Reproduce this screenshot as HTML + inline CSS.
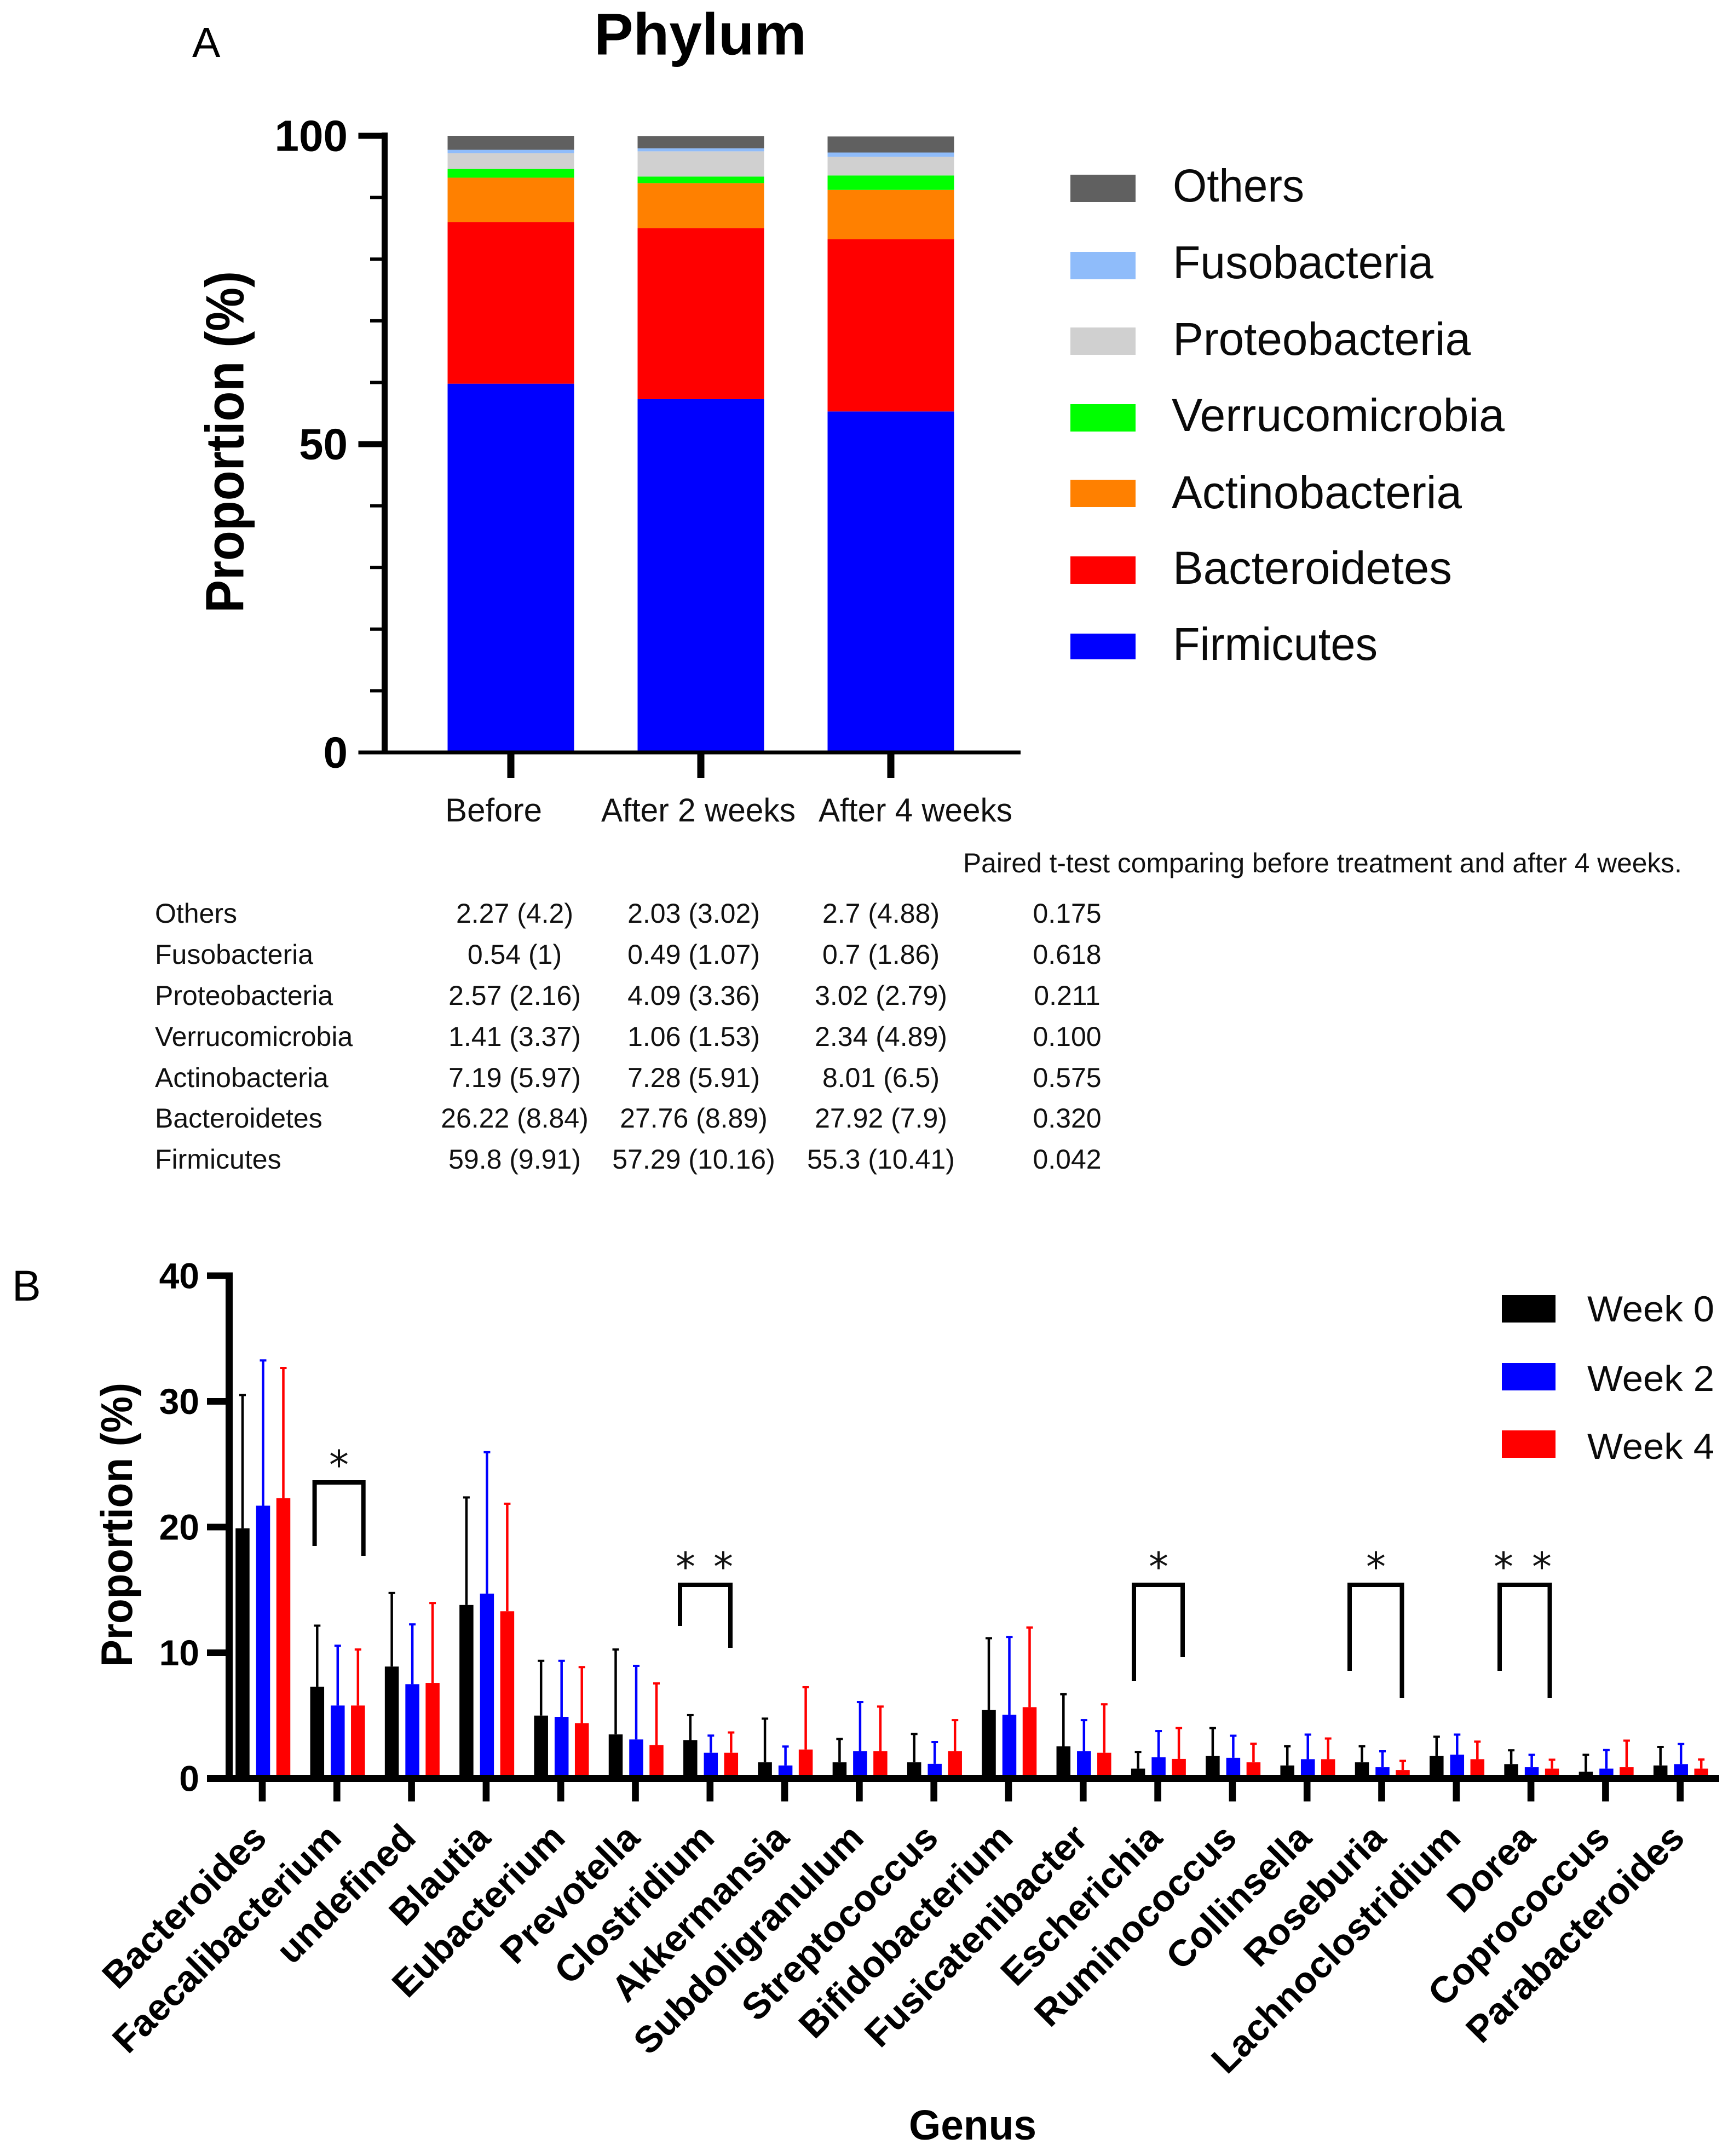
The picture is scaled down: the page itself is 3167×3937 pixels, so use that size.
<!DOCTYPE html>
<html lang="en">
<head>
<meta charset="utf-8">
<title>Phylum and Genus proportions</title>
<style>
html,body{margin:0;padding:0;background:#fff;}
svg{display:block;}
text{font-family:"Liberation Sans",Arial,sans-serif;fill:#000;}
.tbl{font-size:50px;fill:#111;}
.mid{text-anchor:middle;}
.leg{font-size:84px;fill:#0a0a0a;}
.legb{font-size:66px;fill:#0a0a0a;}
.xa{font-size:60px;fill:#111;}
.ast{font-family:"DejaVu Sans",sans-serif;font-size:72px;text-anchor:middle;fill:#111;}
.brk{fill:none;stroke:#000;stroke-width:8;}
</style>
</head>
<body>
<svg id="fig" xmlns="http://www.w3.org/2000/svg" width="3167" height="3937" viewBox="0 0 3167 3937">
  <rect x="0" y="0" width="3167" height="3937" fill="#fff"/>

  <text x="351" y="104" font-size="77">A</text>
  <text x="1085" y="99.5" font-size="108" font-weight="bold" textLength="388" lengthAdjust="spacingAndGlyphs">Phylum</text>
  <text transform="translate(444.5,1119) rotate(-90)" font-size="98" font-weight="bold" textLength="624" lengthAdjust="spacingAndGlyphs">Proportion (%)</text>

  <g id="chartA"></g>

  <text class="xa" x="813" y="1500" textLength="177" lengthAdjust="spacingAndGlyphs">Before</text>
  <text class="xa" x="1098" y="1500" textLength="355" lengthAdjust="spacingAndGlyphs">After 2 weeks</text>
  <text class="xa" x="1495" y="1500" textLength="354" lengthAdjust="spacingAndGlyphs">After 4 weeks</text>

  <g>
    <rect x="1955" y="319" width="119" height="50" fill="#606060"/>
    <text class="leg" x="2142" y="368" textLength="240" lengthAdjust="spacingAndGlyphs">Others</text>
    <rect x="1955" y="460" width="119" height="50" fill="#8fbcfa"/>
    <text class="leg" x="2142" y="508" textLength="476" lengthAdjust="spacingAndGlyphs">Fusobacteria</text>
    <rect x="1955" y="598" width="119" height="50" fill="#d0d0d0"/>
    <text class="leg" x="2142" y="648" textLength="544" lengthAdjust="spacingAndGlyphs">Proteobacteria</text>
    <rect x="1955" y="738" width="119" height="50" fill="#00ff00"/>
    <text class="leg" x="2140" y="787" textLength="608" lengthAdjust="spacingAndGlyphs">Verrucomicrobia</text>
    <rect x="1955" y="876" width="119" height="50" fill="#ff8000"/>
    <text class="leg" x="2140" y="928" textLength="530" lengthAdjust="spacingAndGlyphs">Actinobacteria</text>
    <rect x="1955" y="1016" width="119" height="50" fill="#ff0000"/>
    <text class="leg" x="2142" y="1066" textLength="510" lengthAdjust="spacingAndGlyphs">Bacteroidetes</text>
    <rect x="1955" y="1157" width="119" height="47" fill="#0000ff"/>
    <text class="leg" x="2142" y="1205" textLength="374" lengthAdjust="spacingAndGlyphs">Firmicutes</text>
  </g>

  <g>
    <text class="tbl" x="1759" y="1593" textLength="1313" lengthAdjust="spacingAndGlyphs">Paired t-test  comparing before treatment  and after  4 weeks.</text>

    <text class="tbl" x="283" y="1685">Others</text>
    <text class="tbl mid" x="940" y="1685">2.27 (4.2)</text>
    <text class="tbl mid" x="1267" y="1685">2.03 (3.02)</text>
    <text class="tbl mid" x="1609" y="1685">2.7 (4.88)</text>
    <text class="tbl mid" x="1949" y="1685">0.175</text>

    <text class="tbl" x="283" y="1760">Fusobacteria</text>
    <text class="tbl mid" x="940" y="1760">0.54 (1)</text>
    <text class="tbl mid" x="1267" y="1760">0.49 (1.07)</text>
    <text class="tbl mid" x="1609" y="1760">0.7 (1.86)</text>
    <text class="tbl mid" x="1949" y="1760">0.618</text>

    <text class="tbl" x="283" y="1835">Proteobacteria</text>
    <text class="tbl mid" x="940" y="1835">2.57 (2.16)</text>
    <text class="tbl mid" x="1267" y="1835">4.09 (3.36)</text>
    <text class="tbl mid" x="1609" y="1835">3.02 (2.79)</text>
    <text class="tbl mid" x="1949" y="1835">0.211</text>

    <text class="tbl" x="283" y="1910">Verrucomicrobia</text>
    <text class="tbl mid" x="940" y="1910">1.41 (3.37)</text>
    <text class="tbl mid" x="1267" y="1910">1.06 (1.53)</text>
    <text class="tbl mid" x="1609" y="1910">2.34 (4.89)</text>
    <text class="tbl mid" x="1949" y="1910">0.100</text>

    <text class="tbl" x="283" y="1985">Actinobacteria</text>
    <text class="tbl mid" x="940" y="1985">7.19 (5.97)</text>
    <text class="tbl mid" x="1267" y="1985">7.28 (5.91)</text>
    <text class="tbl mid" x="1609" y="1985">8.01 (6.5)</text>
    <text class="tbl mid" x="1949" y="1985">0.575</text>

    <text class="tbl" x="283" y="2059">Bacteroidetes</text>
    <text class="tbl mid" x="940" y="2059">26.22 (8.84)</text>
    <text class="tbl mid" x="1267" y="2059">27.76 (8.89)</text>
    <text class="tbl mid" x="1609" y="2059">27.92 (7.9)</text>
    <text class="tbl mid" x="1949" y="2059">0.320</text>

    <text class="tbl" x="283" y="2134">Firmicutes</text>
    <text class="tbl mid" x="940" y="2134">59.8 (9.91)</text>
    <text class="tbl mid" x="1267" y="2134">57.29 (10.16)</text>
    <text class="tbl mid" x="1609" y="2134">55.3 (10.41)</text>
    <text class="tbl mid" x="1949" y="2134">0.042</text>
  </g>

  <text x="22" y="2375" font-size="79">B</text>
  <text transform="translate(241,3044) rotate(-90)" font-size="81" font-weight="bold" textLength="519" lengthAdjust="spacingAndGlyphs">Proportion (%)</text>

  <g id="chartB"></g>

  <g>
    <polyline class="brk" points="574.6,2823 574.6,2707 663.7,2707 663.7,2841"/>
    <text class="ast" x="619" y="2700">*</text>
    <polyline class="brk" points="1242,2969 1242,2894 1334,2894 1334,3009"/>
    <text class="ast" x="1252" y="2886">*</text>
    <text class="ast" x="1321" y="2886">*</text>
    <polyline class="brk" points="2071,3070 2071,2894 2160,2894 2160,3026"/>
    <text class="ast" x="2116" y="2886">*</text>
    <polyline class="brk" points="2465,3051 2465,2894 2560.5,2894 2560.5,3101"/>
    <text class="ast" x="2513" y="2886">*</text>
    <polyline class="brk" points="2739,3051 2739,2894 2830.5,2894 2830.5,3101"/>
    <text class="ast" x="2746" y="2886">*</text>
    <text class="ast" x="2816" y="2886">*</text>
  </g>

  <text x="1660" y="3907" font-size="77" font-weight="bold" textLength="233" lengthAdjust="spacingAndGlyphs">Genus</text>

  <g>
    <rect x="2743" y="2365" width="98" height="50" fill="#000000"/>
    <text class="legb" x="2899" y="2413" textLength="232" lengthAdjust="spacingAndGlyphs">Week 0</text>
    <rect x="2743" y="2489" width="98" height="50" fill="#0000ff"/>
    <text class="legb" x="2899" y="2540" textLength="232" lengthAdjust="spacingAndGlyphs">Week 2</text>
    <rect x="2743" y="2612" width="98" height="50" fill="#ff0000"/>
    <text class="legb" x="2899" y="2664" textLength="232" lengthAdjust="spacingAndGlyphs">Week 4</text>
  </g>
</svg>

<script>
// ---- Panel A data ----
const phylumCategories = ['Before', 'After 2 weeks', 'After 4 weeks'];
const firmicutes = [59.8, 57.29, 55.3];
const bacteroidetes = [26.22, 27.76, 27.92];
const actinobacteria = [7.19, 7.28, 8.01];
const verrucomicrobia = [1.41, 1.06, 2.34];
const proteobacteria = [2.57, 4.09, 3.02];
const fusobacteria = [0.54, 0.49, 0.7];
const others = [2.27, 2.0, 2.6];
const phylumMajorTicks = [0, 50, 100];
const phylumMinorTicks = [10, 20, 30, 40, 60, 70, 80, 90];

// ---- Panel B data ----
const genera = ['Bacteroides', 'Faecalibacterium', 'undefined', 'Blautia', 'Eubacterium', 'Prevotella', 'Clostridium', 'Akkermansia', 'Subdoligranulum', 'Streptococcus', 'Bifidobacterium', 'Fusicatenibacter', 'Escherichia', 'Ruminococcus', 'Collinsella', 'Roseburia', 'Lachnoclostridium', 'Dorea', 'Coprococcus', 'Parabacteroides'];
const week0Mean = [19.9, 7.3, 8.9, 13.8, 5.0, 3.5, 3.05, 1.28, 1.28, 1.28, 5.44, 2.55, 0.78, 1.78, 1.03, 1.28, 1.78, 1.14, 0.53, 1.03];
const week2Mean = [21.7, 5.8, 7.5, 14.7, 4.9, 3.1, 2.04, 1.03, 2.17, 1.16, 5.06, 2.17, 1.68, 1.64, 1.53, 0.89, 1.89, 0.89, 0.78, 1.14];
const week4Mean = [22.3, 5.8, 7.6, 13.3, 4.4, 2.65, 2.04, 2.3, 2.17, 2.17, 5.67, 2.04, 1.55, 1.28, 1.53, 0.67, 1.53, 0.78, 0.89, 0.78];
const week0Upper = [30.55, 12.2, 14.8, 22.4, 9.4, 10.3, 5.08, 4.8, 3.18, 3.58, 11.2, 6.74, 2.15, 4.05, 2.6, 2.6, 3.36, 2.28, 1.92, 2.55];
const week2Upper = [33.3, 10.6, 12.3, 26.0, 9.4, 9.0, 3.45, 2.58, 6.12, 2.94, 11.3, 4.68, 3.81, 3.44, 3.53, 2.2, 3.53, 1.92, 2.3, 2.78];
const week4Upper = [32.7, 10.3, 14.0, 21.9, 8.9, 7.6, 3.7, 7.3, 5.76, 4.68, 12.05, 5.94, 4.05, 2.8, 3.22, 1.44, 2.97, 1.53, 3.05, 1.55];
const genusTicks = [0, 10, 20, 30, 40];

// ---- helpers ----
const SVGNS = 'http://www.w3.org/2000/svg';
function mk(tag, parent, props) {
  const el = document.createElementNS(SVGNS, tag);
  for (const k in props) el.setAttribute(k, props[k]);
  parent.appendChild(el);
  return el;
}

// ---- Panel A axes ----
const yA = v => 1374 - 11.26 * v;
const xA = i => 933 + 347 * i;
const chartA = document.getElementById('chartA');
const stackSeries = [
  { name: 'firmicutes', values: firmicutes, color: '#0000ff' },
  { name: 'bacteroidetes', values: bacteroidetes, color: '#ff0000' },
  { name: 'actinobacteria', values: actinobacteria, color: '#ff8000' },
  { name: 'verrucomicrobia', values: verrucomicrobia, color: '#00ff00' },
  { name: 'proteobacteria', values: proteobacteria, color: '#d0d0d0' },
  { name: 'fusobacteria', values: fusobacteria, color: '#8fbcfa' },
  { name: 'others', values: others, color: '#606060' }
];
phylumCategories.forEach((cat, i) => {
  let base = 0;
  stackSeries.forEach(s => {
    const top = base + s.values[i];
    const seg = mk('rect', chartA, { x: xA(i) - 115.5, y: yA(top), width: 231, height: yA(base) - yA(top), fill: s.color });
    
    
    base = top;
  });
  const xt = mk('rect', chartA, { x: xA(i) - 6.5, y: yA(0), width: 13, height: 47, fill: '#000' });
  
  
});
const axisAy = mk('rect', chartA, { x: 697, y: yA(100) - 6, width: 11, height: yA(0) - yA(100) + 9, fill: '#000' });


const axisAx = mk('rect', chartA, { x: 654.5, y: yA(0) - 3.5, width: 1209.5, height: 7, fill: '#000' });


phylumMinorTicks.forEach(v => {
  const t = mk('rect', chartA, { x: 676, y: yA(v) - 3, width: 22, height: 6, fill: '#000' });
  
  
});
phylumMajorTicks.forEach(v => {
  const h = v === 0 ? 7 : 11;
  const t = mk('rect', chartA, { x: 654.5, y: yA(v) - h / 2, width: 43, height: h, fill: '#000' });
  
  
  const l = mk('text', chartA, { x: 635, y: yA(v) + 27.5, 'font-size': 80, 'font-weight': 'bold', 'text-anchor': 'end' });
  l.textContent = String(v);
  
  
});

// ---- Panel B axes ----
const yB = v => 3247.5 - 22.95 * v;
const xB = i => 479 + 136.3 * i;
const chartB = document.getElementById('chartB');
const groupSeries = [
  { name: 'week-0', means: week0Mean, uppers: week0Upper, color: '#000000', offset: -36 },
  { name: 'week-2', means: week2Mean, uppers: week2Upper, color: '#0000ff', offset: 1.5 },
  { name: 'week-4', means: week4Mean, uppers: week4Upper, color: '#ff0000', offset: 38.5 }
];
genera.forEach((g, i) => {
  const slug = g.toLowerCase();
  groupSeries.forEach(s => {
    const cx = xB(i) + s.offset;
    const stem = mk('rect', chartB, { x: cx - 2.25, y: yB(s.uppers[i]), width: 4.5, height: yB(s.means[i]) - yB(s.uppers[i]), fill: s.color });
    
    
    const cap = mk('rect', chartB, { x: cx - 6, y: yB(s.uppers[i]) - 1, width: 12, height: 4, fill: s.color });
    
    
    const bar = mk('rect', chartB, { x: cx - 12.75, y: yB(s.means[i]), width: 25.5, height: yB(0) - yB(s.means[i]), fill: s.color });
    
    
  });
  const xt = mk('rect', chartB, { x: xB(i) - 6.3, y: yB(0), width: 12.6, height: 42, fill: '#000' });
  
  
  const lx = xB(i) + 11.5;
  const l = mk('text', chartB, { x: lx, y: 3360, 'font-size': 68, 'font-weight': 'bold', 'text-anchor': 'end', transform: 'rotate(-45 ' + lx + ' 3360)' });
  l.textContent = g;
  
  
});
const axisBy = mk('rect', chartB, { x: 412, y: yB(40) - 6, width: 13, height: yB(0) - yB(40) + 12, fill: '#000' });


const axisBx = mk('rect', chartB, { x: 378, y: yB(0) - 6.5, width: 2762, height: 13, fill: '#000' });


genusTicks.forEach(v => {
  const t = mk('rect', chartB, { x: 378, y: yB(v) - 6, width: 40, height: 12, fill: '#000' });
  
  
  const l = mk('text', chartB, { x: 364, y: yB(v) + 23, 'font-size': 66, 'font-weight': 'bold', 'text-anchor': 'end' });
  l.textContent = String(v);
  
  
});
</script>
</body>
</html>
